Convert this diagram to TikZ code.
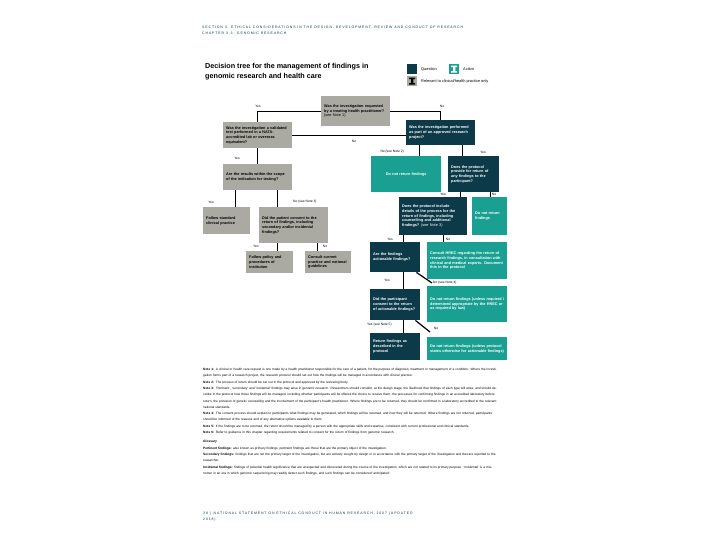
\documentclass[tikz,border=0pt]{standalone}
\usepackage{fontspec}
\setmainfont{Liberation Sans}
\usetikzlibrary{positioning}

\definecolor{qdark}{HTML}{0C3A49}
\definecolor{actteal}{HTML}{1AA092}
\definecolor{clingrey}{HTML}{AAAAA2}

\newcommand{\boxfont}{\fontsize{3.8}{4.7}\selectfont\bfseries\hyphenpenalty=10000}
\newcommand{\lblfont}{\fontsize{3.3}{3.8}\selectfont}
\newcommand{\legfont}{\fontsize{3.9}{4.2}\selectfont}
\newcommand{\capsfont}{\fontsize{3.5}{6}\selectfont\addfontfeature{LetterSpace=25}}
\newcommand{\seenote}[1]{{\mdseries(see~Note~#1)}}

\tikzset{
  dbox/.style={anchor=north west, inner xsep=3pt, inner ysep=1pt, align=left, font=\boxfont, text width=#1},
  question/.style={dbox=#1, fill=qdark, text=white},
  action/.style={dbox=#1, fill=actteal, text=white},
  clinical/.style={dbox=#1, fill=clingrey, text=black},
  conn/.style={line width=1.2pt, black},
  lbl/.style={font=\lblfont, inner sep=0pt},
  keybox/.style={anchor=north west, minimum size=10pt, inner sep=0pt}
}

\begin{document}
\begin{tikzpicture}[x=1pt,y=-1pt]
\useasboundingbox (0,0) rectangle (720,540);
\fill[white] (0,0) rectangle (720,540);

% page header
\node[anchor=north west, inner sep=0pt, align=left, font=\capsfont, text=qdark] (hdr) at (202,26)
  {SECTION 3: ETHICAL CONSIDERATIONS IN THE DESIGN, DEVELOPMENT, REVIEW AND CONDUCT OF RESEARCH\\
   CHAPTER 3.3: GENOMIC RESEARCH};

% title and key
\node[anchor=north west, inner sep=0pt, align=left, font=\fontsize{7.2}{10}\selectfont\bfseries] (title) at (205,63)
  {Decision tree for the management of findings in\\genomic research and health care};

\node[keybox, fill=qdark] (kq) at (407,64) {};
\node[lbl, anchor=west, font=\legfont] (kqt) at (421,69) {Question};
\node[keybox, fill=actteal] (ka) at (449,64) {};
\node[lbl, anchor=west, font=\legfont] (kat) at (463,69) {Action};
\node[keybox, fill=clingrey] (kc) at (407,76) {};
\node[lbl, anchor=west, font=\legfont] (kct) at (421,81) {Relevant to clinical/health practice only};
\begin{scope}[shift={(ka.center)}]
  \fill[white] (-3,-3.5) rectangle (3,-2) (-1.2,-2) rectangle (1.2,2) (-3,2) rectangle (3,3.5);
\end{scope}
\begin{scope}[shift={(kc.center)}]
  \fill[black] (-3,-3.5) rectangle (3,-2) (-1.2,-2) rectangle (1.2,2) (-3,2) rectangle (3,3.5);
\end{scope}

% decision tree
\node[clinical=63pt, minimum height=30pt] (q1) at (321,96)
  {Was the investigation requested by a treating health practitioner?\\\seenote{1}};
\node[clinical=63pt, minimum height=26pt] (q2) at (223,122)
  {Was the investigation a validated test performed in a NATA-accredited lab or overseas equivalent?};
\node[question=63pt, minimum height=25pt] (q3) at (406,120)
  {Was the investigation performed as part of an approved research project?};
\node[clinical=63pt, minimum height=26pt] (q4) at (223,164)
  {Are the results within the scope of the indication for testing?};
\node[action=64pt, minimum height=36pt, align=center] (a1) at (371,156) {Do not return findings};
\node[question=45pt, minimum height=36pt] (q5) at (448,156)
  {Does the protocol provide for return of any findings to the participant?};
\node[clinical=41pt, minimum height=27pt] (l1) at (203,207) {Follow standard clinical practice};
\node[clinical=63pt, minimum height=36pt] (qc) at (259,207)
  {Did the patient consent to the return of findings, including secondary and/or incidental findings?};
\node[clinical=41pt, minimum height=22pt] (l2) at (246,251) {Follow policy and procedures of institution};
\node[clinical=40pt, minimum height=22pt] (l3) at (305,251) {Consult current practice and national guidelines};
\node[question=62pt, minimum height=38pt] (q6) at (399,197)
  {Does the protocol include details of the process for the return of findings, including counselling and additional findings? \seenote{3}};
\node[action=29pt, minimum height=38pt] (a2) at (472,197) {Do not return findings};
\node[question=44pt, minimum height=30pt] (q7) at (370,242) {Are the findings actionable findings?};
\node[action=74pt, minimum height=37pt] (a3) at (427,242)
  {Consult HREC regarding the return of research findings, in consultation with clinical and medical experts. Document this in the protocol};
\node[question=44pt, minimum height=31pt] (q8) at (370,289)
  {Did the participant consent to the return of actionable findings?};
\node[action=74pt, minimum height=36pt] (a4) at (427,286)
  {Do not return findings (unless required / determined appropriate by the HREC or as required by law)};
\node[question=44pt, minimum height=27pt] (q9) at (370,333)
  {Return findings as described in the protocol};
\node[action=74pt, minimum height=23pt] (a5) at (427,337)
  {Do not return findings (unless protocol states otherwise for actionable findings)};

% connectors
\draw[conn] (q1.west) -| (q2.north);
\draw[conn] (q1.east) -| (q3.north);
\draw[conn] (q2.east) -- (q2.east -| q3.west);
\draw[conn] (q2) -- (q4);
\foreach \p/\dx/\c in {q3/-21.5/a1, q3/21.5/q5, q4/-22.5/l1, q4/19.5/qc, q5/-13.5/q6, q5/16.5/a2,
                       qc/-16.5/l2, qc/23.5/l3, q6/-30/q7, q6/10/a3, q7/8/q8, q8/8/q9}{
  \path ([xshift=\dx pt]\p.south) coordinate (top);
  \draw[conn] (top) -- (top |- \c.north);
}
\draw[conn] ([xshift=-4pt]q7.south east) -- ([xshift=5pt,yshift=3pt]a4.north west);
\draw[conn] ([xshift=-5pt]q8.south east) -- ([xshift=3pt,yshift=5pt]a5.north west);

% branch labels
\node[lbl] (y1) at (258,106) {Yes};
\node[lbl] (n1) at (442,106) {No};
\node[lbl] (n2) at (354,141) {No};
\node[lbl] (y2) at (237,158) {Yes};
\node[lbl, anchor=east] (n3) at (404,152) {No (see Note 2)};
\node[lbl] (y3) at (483,152) {Yes};
\node[lbl] (y4) at (211,202) {Yes};
\node[lbl, anchor=west] (n4) at (293,202) {No (see Note 3)};
\node[lbl] (y5) at (443,194) {Yes};
\node[lbl] (n5) at (494,194) {No};
\node[lbl] (y6) at (256,246) {Yes};
\node[lbl] (n6) at (325,246) {No};
\node[lbl] (y7) at (390,239) {Yes};
\node[lbl] (n7) at (448,239) {No};
\node[lbl] (y8) at (387,280) {Yes};
\node[lbl, anchor=west] (n8) at (433,283) {No (see Note 4)};
\node[lbl, anchor=west] (y9) at (367,325) {Yes (see Note 5)};
\node[lbl] (n9) at (436,328) {No};

% notes and glossary
\node[anchor=north west, inner sep=0pt, text width=297pt, align=left, font=\fontsize{3.2}{6.3}\selectfont] (notes) at (203,368) {%
\textbf{Note 1:} A clinical or health care request is one made by a health practitioner responsible for the care of a patient, for the purpose of diagnosis, treatment or management of a condition. Where the investigation forms part of a research project, the research protocol should set out how the findings will be managed in accordance with clinical practice.\par
\textbf{Note 2:} The process of return should be set out in the protocol and approved by the reviewing body.\par
\textbf{Note 3:} `Pertinent', `secondary' and `incidental' findings may arise in genomic research. Researchers should consider, at the design stage, the likelihood that findings of each type will arise, and should describe in the protocol how those findings will be managed, including whether participants will be offered the choice to receive them, the processes for confirming findings in an accredited laboratory before return, the provision of genetic counselling and the involvement of the participant's health practitioner. Where findings are to be returned, they should be confirmed in a laboratory accredited to the relevant national standards.\par
\textbf{Note 4:} The consent process should explain to participants what findings may be generated, which findings will be returned, and how they will be returned. Where findings are not returned, participants should be informed of the reasons and of any alternative options available to them.\par
\textbf{Note 5:} If the findings are to be returned, the return should be managed by a person with the appropriate skills and expertise, consistent with current professional and clinical standards.\par
\textbf{Note 6:} Refer to guidance in this chapter regarding requirements related to consent for the return of findings from genomic research.\par
\vspace{3pt}\textbf{Glossary}\par
\textbf{Pertinent findings:} also known as primary findings, pertinent findings are those that are the primary object of the investigation.\par
\textbf{Secondary findings:} findings that are not the primary target of the investigation, but are actively sought by design or in accordance with the primary target of the investigation and that are reported to the researcher.\par
\textbf{Incidental findings:} findings of potential health significance that are unexpected and discovered during the course of the investigation, which are not related to its primary purpose. `Incidental' is a misnomer in an era in which genomic sequencing may readily detect such findings, and such findings can be considered `anticipated'.};

% page footer
\node[anchor=north west, inner sep=0pt, align=left, font=\capsfont, text=qdark] (ftr) at (203,512)
  {38 \,|\, NATIONAL STATEMENT ON ETHICAL CONDUCT IN HUMAN RESEARCH, 2007 (UPDATED\\2018)};
\end{tikzpicture}
\end{document}
